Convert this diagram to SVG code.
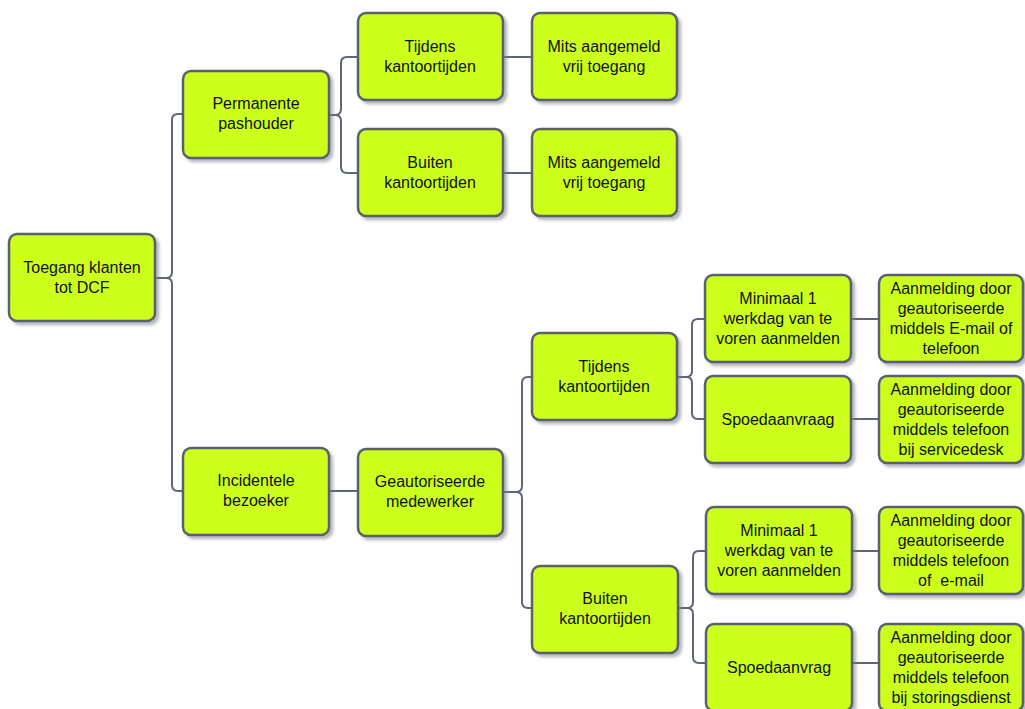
<svg xmlns="http://www.w3.org/2000/svg" width="1025" height="709" viewBox="0 0 1025 709">
<defs>
<filter id="sh" x="-10%" y="-10%" width="130%" height="130%">
<feDropShadow dx="3" dy="3" stdDeviation="1.5" flood-color="#7a7f8a" flood-opacity="0.55"/>
</filter>
<style>
.box{fill:#CCFF1A;stroke:#5A6172;stroke-width:2.5;filter:url(#sh)}
.t{font-family:"Liberation Sans",Arial,sans-serif;font-size:16px;fill:#111;text-anchor:middle}
.c{fill:none;stroke:#5F6677;stroke-width:2}
</style>
</defs>
<rect width="1025" height="709" fill="#fff"/>
<g id="connectors">
<path class="c" d="M156 278 H166 Q172 278 172 272 V120 Q172 114 178 114 H183"/>
<path class="c" d="M156 278 H166 Q172 278 172 284 V485 Q172 491 178 491 H183"/>
<path class="c" d="M329 115 H335 Q341 115 341 109 V63 Q341 57 347 57 H358"/>
<path class="c" d="M329 115 H335 Q341 115 341 121 V167 Q341 173 347 173 H358"/>
<path class="c" d="M503 57 H532"/>
<path class="c" d="M503 173 H532"/>
<path class="c" d="M329 491 H358"/>
<path class="c" d="M503 492 H516 Q522 492 522 486 V383 Q522 377 528 377 H532"/>
<path class="c" d="M503 492 H516 Q522 492 522 498 V602 Q522 608 528 608 H532"/>
<path class="c" d="M677 377 H686 Q692 377 692 371 V325 Q692 319 698 319 H705"/>
<path class="c" d="M677 377 H686 Q692 377 692 383 V413 Q692 419 698 419 H705"/>
<path class="c" d="M678 608 H687 Q693 608 693 602 V557 Q693 551 699 551 H706"/>
<path class="c" d="M678 608 H687 Q693 608 693 614 V657 Q693 663 699 663 H706"/>
<path class="c" d="M851 319 H879"/>
<path class="c" d="M851 419 H879"/>
<path class="c" d="M851 551 H879"/>
<path class="c" d="M851 663 H879"/>
</g>
<g id="root"><rect class="box" x="9" y="234" width="146" height="87" rx="8"/><text class="t" x="82" y="273">Toegang klanten<tspan x="82" dy="20">tot DCF</tspan></text></g>
<g id="perm"><rect class="box" x="183" y="71" width="146" height="87" rx="8"/><text class="t" x="256" y="109">Permanente<tspan x="256" dy="20">pashouder</tspan></text></g>
<g id="inc"><rect class="box" x="183" y="448" width="146" height="87" rx="8"/><text class="t" x="256" y="486">Incidentele<tspan x="256" dy="20">bezoeker</tspan></text></g>
<g id="t1"><rect class="box" x="358" y="13" width="145" height="87" rx="8"/><text class="t" x="430" y="52">Tijdens<tspan x="430" dy="20">kantoortijden</tspan></text></g>
<g id="b1"><rect class="box" x="358" y="129" width="145" height="87" rx="8"/><text class="t" x="430" y="168">Buiten<tspan x="430" dy="20">kantoortijden</tspan></text></g>
<g id="m1"><rect class="box" x="532" y="13" width="145" height="87" rx="8"/><text class="t" x="604" y="52">Mits aangemeld<tspan x="604" dy="20">vrij toegang</tspan></text></g>
<g id="m2"><rect class="box" x="532" y="129" width="145" height="87" rx="8"/><text class="t" x="604" y="168">Mits aangemeld<tspan x="604" dy="20">vrij toegang</tspan></text></g>
<g id="geo"><rect class="box" x="358" y="449" width="145" height="87" rx="8"/><text class="t" x="430" y="487">Geautoriseerde<tspan x="430" dy="20">medewerker</tspan></text></g>
<g id="t2"><rect class="box" x="532" y="333" width="145" height="87" rx="8"/><text class="t" x="604" y="372">Tijdens<tspan x="604" dy="20">kantoortijden</tspan></text></g>
<g id="b2"><rect class="box" x="532" y="566" width="146" height="87" rx="8"/><text class="t" x="605" y="604">Buiten<tspan x="605" dy="20">kantoortijden</tspan></text></g>
<g id="min1"><rect class="box" x="705" y="275" width="146" height="87" rx="8"/><text class="t" x="778" y="304">Minimaal 1<tspan x="778" dy="20">werkdag van te</tspan><tspan x="778" dy="20">voren aanmelden</tspan></text></g>
<g id="sp1"><rect class="box" x="705" y="376" width="146" height="87" rx="8"/><text class="t" x="778" y="425">Spoedaanvraag</text></g>
<g id="a1"><rect class="box" x="879" y="275" width="144" height="87" rx="8"/><text class="t" x="951" y="294">Aanmelding door<tspan x="951" dy="20">geautoriseerde</tspan><tspan x="951" dy="20">middels E-mail of</tspan><tspan x="951" dy="20">telefoon</tspan></text></g>
<g id="a2"><rect class="box" x="879" y="376" width="144" height="87" rx="8"/><text class="t" x="951" y="395">Aanmelding door<tspan x="951" dy="20">geautoriseerde</tspan><tspan x="951" dy="20">middels telefoon</tspan><tspan x="951" dy="20">bij servicedesk</tspan></text></g>
<g id="min2"><rect class="box" x="706" y="507" width="146" height="87" rx="8"/><text class="t" x="779" y="536">Minimaal 1<tspan x="779" dy="20">werkdag van te</tspan><tspan x="779" dy="20">voren aanmelden</tspan></text></g>
<g id="sp2"><rect class="box" x="706" y="624" width="146" height="87" rx="8"/><text class="t" x="779" y="673">Spoedaanvrag</text></g>
<g id="a3"><rect class="box" x="879" y="507" width="144" height="87" rx="8"/><text class="t" x="951" y="526">Aanmelding door<tspan x="951" dy="20">geautoriseerde</tspan><tspan x="951" dy="20">middels telefoon</tspan><tspan x="951" dy="20">of&#160; e-mail</tspan></text></g>
<g id="a4"><rect class="box" x="879" y="624" width="144" height="87" rx="8"/><text class="t" x="951" y="643">Aanmelding door<tspan x="951" dy="20">geautoriseerde</tspan><tspan x="951" dy="20">middels telefoon</tspan><tspan x="951" dy="20">bij storingsdienst</tspan></text></g>
</svg>
